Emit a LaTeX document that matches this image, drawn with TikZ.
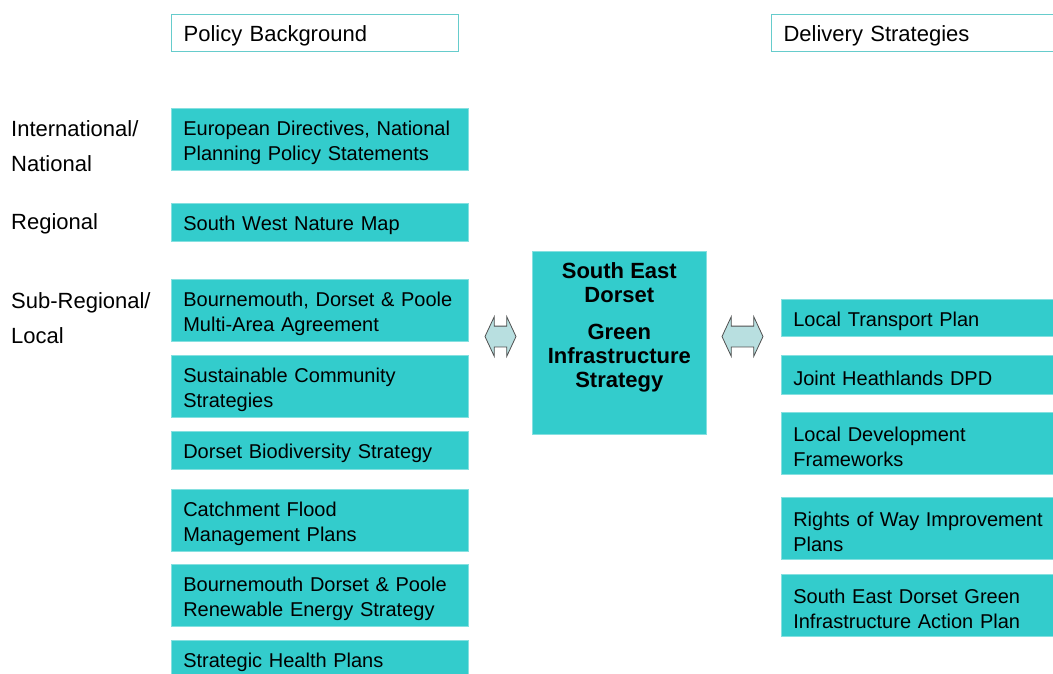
\documentclass[tikz,border=0pt]{standalone}
\usepackage{fontspec}
\setmainfont{Liberation Sans}
\usetikzlibrary{shapes.arrows}
\definecolor{boxteal}{HTML}{33CCCC}
\definecolor{lineteal}{HTML}{66CCCC}
\definecolor{arrowfill}{HTML}{B8DFE0}
\definecolor{arrowline}{HTML}{505050}

\begin{document}
\begin{tikzpicture}
[every node/.style={inner sep=0pt, anchor=north west},
 head/.style={draw=lineteal, line width=1.2pt, fill=white, minimum height=37pt, inner xsep=12pt, align=left, font=\fontsize{22}{26}\selectfont, execute at begin node={\rule{0pt}{22pt}}},
 level/.style={align=left, font=\fontsize{22}{35}\selectfont},
 plan/.style={fill=boxteal, draw=boxteal!60!white, line width=0.6pt, inner xsep=12pt, align=left, font=\fontsize{20}{25}\selectfont, execute at begin node={\rule{0pt}{21pt}}},
 arrowsym/.style={shape=double arrow, anchor=center, fill=arrowfill, draw=arrowline, line width=0.8pt, double arrow head extend=9.5pt, double arrow tip angle=130, inner xsep=0pt, inner ysep=10pt}]
\useasboundingbox (0pt, 0pt) rectangle (1053pt, -673pt);
\clip (0pt, 0pt) rectangle (1053pt, -673pt);
% headings
\node (1) [head, text width=263pt] at (171pt, -14pt) {Policy Background};
\node (2) [head, text width=266pt] at (771pt, -14pt) {Delivery Strategies};
% levels
\node (3) [level] at (11pt, -120pt) {International/\\National};
\node (4) [level] at (11pt, -213pt) {Regional};
\node (5) [level] at (11pt, -292pt) {Sub-Regional/\\Local};
% policy background
\node (6) [plan, text width=273pt, minimum height=62pt] at (171pt, -108pt) {European Directives, National\\Planning Policy Statements};
\node (7) [plan, text width=273pt, minimum height=38pt] at (171pt, -203pt) {South West Nature Map};
\node (8) [plan, text width=273pt, minimum height=62pt] at (171pt, -279pt) {Bournemouth, Dorset \& Poole\\Multi-Area Agreement};
\node (9) [plan, text width=273pt, minimum height=62pt] at (171pt, -355pt) {Sustainable Community\\Strategies};
\node (10) [plan, text width=273pt, minimum height=38pt] at (171pt, -431pt) {Dorset Biodiversity Strategy};
\node (11) [plan, text width=273pt, minimum height=62pt] at (171pt, -489pt) {Catchment Flood\\Management Plans};
\node (12) [plan, text width=273pt, minimum height=62pt] at (171pt, -564pt) {Bournemouth Dorset \& Poole\\Renewable Energy Strategy};
\node (13) [plan, text width=273pt, minimum height=38pt] at (171pt, -640pt) {Strategic Health Plans};
% strategy
\node (14) [plan, inner xsep=0pt, minimum width=174pt, minimum height=183pt,
  label={[anchor=north, yshift=-11pt, align=center, font=\bfseries\fontsize{22}{24}\selectfont]north:{South East\\Dorset\\[13pt]Green\\Infrastructure\\Strategy}}] at (532pt, -251pt) {};
\node (15) [arrowsym, minimum height=31pt] at (500.5pt, -336.5pt) {};
\node (16) [arrowsym, minimum height=41pt] at (742.5pt, -336.5pt) {};
% delivery strategies
\node (17) [plan, text width=266pt, minimum height=37pt] at (781pt, -299pt) {Local Transport Plan};
\node (18) [plan, text width=266pt, minimum height=39pt] at (781pt, -355pt) {Joint Heathlands DPD};
\node (19) [plan, text width=266pt, minimum height=62pt] at (781pt, -412pt) {Local Development\\Frameworks};
\node (20) [plan, text width=266pt, minimum height=62pt] at (781pt, -497pt) {Rights of Way Improvement\\Plans};
\node (21) [plan, text width=266pt, minimum height=62pt] at (781pt, -574pt) {South East Dorset Green\\Infrastructure Action Plan};
\end{tikzpicture}
\end{document}
